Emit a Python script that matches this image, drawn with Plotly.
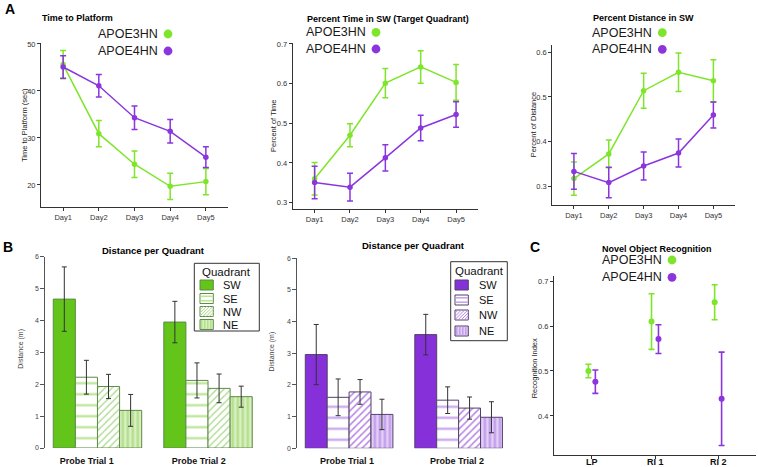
import plotly.graph_objects as go

W, H = 758, 467
FONT = "Arial, Liberation Sans, sans-serif"

# ---------------- data ----------------
days = ["Day1", "Day2", "Day3", "Day4", "Day5"]
genotypes = ["APOE3HN", "APOE4HN"]

ttp_e3 = [45.6, 30.9, 24.4, 19.7, 20.7]
ttp_e3_err = [3.0, 2.8, 2.8, 2.8, 2.8]
ttp_e4 = [45.1, 41.1, 34.3, 31.4, 25.9]
ttp_e4_err = [2.4, 2.4, 2.5, 2.5, 2.2]

ptime_e3 = [0.360, 0.470, 0.601, 0.642, 0.603]
ptime_e3_err = [0.041, 0.029, 0.037, 0.041, 0.045]
ptime_e4 = [0.351, 0.339, 0.413, 0.488, 0.522]
ptime_e4_err = [0.041, 0.035, 0.033, 0.032, 0.032]

pdist_e3 = [0.318, 0.373, 0.514, 0.555, 0.536]
pdist_e3_err = [0.037, 0.031, 0.039, 0.043, 0.047]
pdist_e4 = [0.334, 0.309, 0.346, 0.375, 0.460]
pdist_e4_err = [0.040, 0.034, 0.031, 0.031, 0.029]

trials = ["Probe Trial 1", "Probe Trial 2"]
quadrants = ["SW", "SE", "NW", "NE"]
dist_e3_t1 = [4.67, 2.22, 1.93, 1.18]
dist_e3_t1_err = [1.01, 0.53, 0.38, 0.50]
dist_e3_t2 = [3.95, 2.12, 1.87, 1.61]
dist_e3_t2_err = [0.65, 0.55, 0.45, 0.33]
dist_e4_t1 = [2.96, 1.61, 1.78, 1.07]
dist_e4_t1_err = [0.95, 0.58, 0.39, 0.48]
dist_e4_t2 = [3.59, 1.52, 1.27, 0.98]
dist_e4_t2_err = [0.64, 0.42, 0.35, 0.49]

nor_tests = ["LP", "RI 1", "RI 2"]
nor_e3 = [0.500, 0.610, 0.653]
nor_e3_err = [0.015, 0.062, 0.039]
nor_e4 = [0.476, 0.571, 0.438]
nor_e4_err = [0.026, 0.032, 0.104]

# ---------------- styles ----------------
GREEN = "#7FE52B"
PURPLE = "#8B35DC"
TXT = "#222222"
AX = "#333333"


def px_x(a, b):
    return [a / W, b / W]


def px_y(top, bottom):
    return [1 - bottom / H, 1 - top / H]


def fx(p):
    return p / W


def fy(p):
    return 1 - p / H


fig = go.Figure()

# ---------------- panel A line charts ----------------
a_sets = [
    (ttp_e3, ttp_e3_err, ttp_e4, ttp_e4_err, "x", "y"),
    (ptime_e3, ptime_e3_err, ptime_e4, ptime_e4_err, "x2", "y2"),
    (pdist_e3, pdist_e3_err, pdist_e4, pdist_e4_err, "x3", "y3"),
]
for e3, e3e, e4, e4e, xa, ya in a_sets:
    for vals, errs, col, name in [(e3, e3e, GREEN, genotypes[0]), (e4, e4e, PURPLE, genotypes[1])]:
        fig.add_trace(go.Scatter(
            x=days, y=vals, mode="lines+markers", name=name,
            line=dict(color=col, width=1.5), marker=dict(color=col, size=5.5),
            error_y=dict(type="data", array=errs, color=col, thickness=1.5, width=3),
            xaxis=xa, yaxis=ya, showlegend=False))

# ---------------- panel B bar charts ----------------
b_green = dict(
    SW=dict(color="#63C519", fg=None, bg="#63C519"),
    SE=dict(color="white", fg="#B9E592", bg="white",
            pattern=dict(shape="-", fgcolor="#B9E592", bgcolor="white", size=11, solidity=0.2)),
    NW=dict(color="white", fg="#A9D98A", bg="white",
            pattern=dict(shape="/", fgcolor="#A9D98A", bgcolor="white", size=5, solidity=0.25)),
    NE=dict(color="#D3EEBB", fg="#B1DE88", bg="#D8F0C2",
            pattern=dict(shape="|", fgcolor="#B1DE88", bgcolor="#D8F0C2", size=5, solidity=0.45)),
)
b_purple = dict(
    SW=dict(color="#8530D8", fg=None, bg="#8530D8"),
    SE=dict(color="white", fg="#C8A4EE", bg="white",
            pattern=dict(shape="-", fgcolor="#C8A4EE", bgcolor="white", size=11, solidity=0.2)),
    NW=dict(color="white", fg="#B685E6", bg="white",
            pattern=dict(shape="/", fgcolor="#B685E6", bgcolor="white", size=5, solidity=0.3)),
    NE=dict(color="#DCC5F4", fg="#C09AEC", bg="#E2CFF6",
            pattern=dict(shape="|", fgcolor="#C09AEC", bgcolor="#E2CFF6", size=5, solidity=0.45)),
)
b_sets = [
    (dist_e3_t1, dist_e3_t1_err, dist_e3_t2, dist_e3_t2_err, b_green, "#5F8A48", "x4", "y4"),
    (dist_e4_t1, dist_e4_t1_err, dist_e4_t2, dist_e4_t2_err, b_purple, "#55406B", "x5", "y5"),
]
for t1, t1e, t2, t2e, sty, edge, xa, ya in b_sets:
    for qi, q in enumerate(quadrants):
        s = sty[q]
        marker = dict(color=s["color"], line=dict(color=edge, width=1))
        if "pattern" in s:
            marker["pattern"] = s["pattern"]
        fig.add_trace(go.Bar(
            x=trials, y=[t1[qi], t2[qi]], name=q, marker=marker,
            error_y=dict(type="data", array=[t1e[qi], t2e[qi]], color="#333333", thickness=1, width=2.5),
            xaxis=xa, yaxis=ya, showlegend=False))

# ---------------- panel C ----------------
dodge = 0.055
for vals, errs, col, name, sgn in [(nor_e3, nor_e3_err, GREEN, genotypes[0], -1),
                                   (nor_e4, nor_e4_err, PURPLE, genotypes[1], 1)]:
    fig.add_trace(go.Scatter(
        x=[i + sgn * dodge for i in range(len(nor_tests))], y=vals, mode="markers", name=name,
        marker=dict(color=col, size=6),
        error_y=dict(type="data", array=errs, color=col, thickness=1.6, width=3),
        xaxis="x6", yaxis="y6", showlegend=False))

# ---------------- axes ----------------
a_axis = dict(showline=True, linecolor=AX, linewidth=1, ticks="outside", ticklen=3,
              tickcolor=AX, tickwidth=1, tickfont=dict(size=7.5, color=AX, family=FONT),
              showgrid=False, zeroline=False, automargin=False)

C_X0, C_X1 = 554, 756
C_RANGE = [-0.6, 2.6]

lay = dict(
    template="none",
    width=W, height=H, margin=dict(l=0, r=0, t=0, b=0),
    paper_bgcolor="white", plot_bgcolor="white",
    font=dict(family=FONT, color=TXT),
    barmode="group", bargap=0.2, bargroupgap=0, showlegend=False,
    xaxis=dict(domain=px_x(41, 228), anchor="y", range=[-0.62, 4.62], **a_axis),
    yaxis=dict(domain=px_y(43, 207), anchor="x", range=[15.3, 50.2], tickvals=[20, 30, 40, 50], **a_axis),
    xaxis2=dict(domain=px_x(292.7, 478), anchor="y2", range=[-0.62, 4.62], **a_axis),
    yaxis2=dict(domain=px_y(42.7, 209), anchor="x2", range=[0.284, 0.703],
                tickvals=[0.3, 0.4, 0.5, 0.6, 0.7], tickformat=".1f", **a_axis),
    xaxis3=dict(domain=px_x(552.3, 735), anchor="y3", range=[-0.62, 4.62], **a_axis),
    yaxis3=dict(domain=px_y(45, 205), anchor="x3", range=[0.259, 0.616],
                tickvals=[0.3, 0.4, 0.5, 0.6], tickformat=".1f", **a_axis),
    xaxis6=dict(domain=px_x(C_X0, C_X1), anchor="y6", range=C_RANGE,
                tickvals=list(range(len(nor_tests))), showticklabels=False, **a_axis),
    yaxis6=dict(domain=px_y(276.2, 454.5), anchor="x6", range=[0.314, 0.711],
                tickvals=[0.4, 0.5, 0.6, 0.7], tickformat=".1f", **a_axis),
)

b_y = dict(showline=True, linecolor="#555555", linewidth=1, ticks="outside", ticklen=4,
           tickcolor="#555555", tickfont=dict(size=7, color="#444444", family=FONT),
           showgrid=False, zeroline=False, automargin=False, range=[0, 6], dtick=1)
b_x = dict(showline=False, ticks="", showgrid=False, zeroline=False, automargin=False,
           range=[-0.472, 1.472], ticktext=["<b>%s</b>" % t for t in trials],
           ticklabelstandoff=6, tickfont=dict(size=9, color="#111111", family=FONT))
# label positions (in category units): panel B1 labels sit slightly left of the group centres
lay["xaxis4"] = dict(domain=px_x(45.3, 260.2), anchor="y4", tickvals=[-0.097, 0.917], **b_x)
lay["yaxis4"] = dict(domain=px_y(256.7, 448), anchor="x4", **b_y)
lay["xaxis5"] = dict(domain=px_x(297.4, 510.3), anchor="y5", tickvals=[-0.02, 0.985], **b_x)
lay["yaxis5"] = dict(domain=px_y(258.3, 448.3), anchor="x5", **b_y)

fig.update_layout(**lay)

# ---------------- annotations & decorations ----------------
ann = []
shapes = []


def text(s, x, y, size, bold=False, anchor="left", color=TXT, angle=0):
    ann.append(dict(text=("<b>%s</b>" % s) if bold else s, x=fx(x), y=fy(y), xref="paper", yref="paper",
                    xanchor=anchor, yanchor="middle", showarrow=False, textangle=angle,
                    font=dict(size=size, color=color, family=FONT)))


def pline(x0, y0, x1, y1, color, width):
    shapes.append(dict(type="line", xref="paper", yref="paper", x0=fx(x0), y0=fy(y0), x1=fx(x1), y1=fy(y1),
                       line=dict(color=color, width=width)))


def prect(x0, y0, x1, y1, fill, edge, width=1):
    shapes.append(dict(type="rect", xref="paper", yref="paper", x0=fx(x0), y0=fy(y0), x1=fx(x1), y1=fy(y1),
                       fillcolor=fill, line=dict(color=edge, width=width)))


text("A", 3, 8.5, 14, bold=True, color="#000")
text("B", 0.5, 246.7, 14, bold=True, color="#000")
text("C", 528, 247.3, 14, bold=True, color="#000")

text("Time to Platform", 40, 18, 9, bold=True, color="#000")
text("Percent Time in SW (Target Quadrant)", 305, 19, 9, bold=True, color="#000")
text("Percent Distance in SW", 590.7, 18, 9, bold=True, color="#000")
text("Distance per Quadrant", 153.5, 250, 9.5, bold=True, anchor="center", color="#000")
text("Distance per Quadrant", 413.3, 245.7, 9.5, bold=True, anchor="center", color="#000")
text("Novel Object Recognition", 600, 249.3, 9, bold=True, color="#000")

text("Time to Platform (sec)", 24, 125, 7.5, angle=-90, anchor="center")
text("Percent of Time", 273.3, 125.7, 7.5, angle=-90, anchor="center")
text("Percent of Distance", 533.3, 125, 7.5, angle=-90, anchor="center")
text("Distance (m)", 20.7, 349, 7, angle=-90, anchor="center", color="#444")
text("Distance (m)", 271.7, 351.7, 7, angle=-90, anchor="center", color="#444")
text("Recognition Index", 534.3, 368, 7.5, angle=-90, anchor="center")

# panel C category labels at the category positions of the C x axis
for i, t in enumerate(nor_tests):
    cx = C_X0 + (i - C_RANGE[0]) / (C_RANGE[1] - C_RANGE[0]) * (C_X1 - C_X0)
    text(t, cx, 462, 9, bold=True, anchor="center", color="#111")

# genotype keys (text followed by dot)
legend_spots = [(96, 34, 51, 168), (304, 32.3, 49, 376), (590, 32.7, 49.3, 662.3), (600, 260, 277.3, 672)]
for tx, y1, y2, dxp in legend_spots:
    for yy, lab, col in [(y1, genotypes[0], GREEN), (y2, genotypes[1], PURPLE)]:
        text(lab, tx, yy, 12.5, color="#1a1a1a")
        shapes.append(dict(type="circle", xref="paper", yref="paper", xsizemode="pixel", ysizemode="pixel",
                           xanchor=fx(dxp), yanchor=fy(yy), x0=-4.4, x1=4.4, y0=-4.4, y1=4.4,
                           fillcolor=col, line=dict(width=0)))


# quadrant keys (boxed legends)
def quad_key(box, title_xy, sw_x, text_x, item_ys, sty, edge):
    bx0, by0, bx1, by1 = box
    prect(bx0, by0, bx1, by1, "white", "#333333", 1)
    text("Quadrant", title_xy[0], title_xy[1], 11.5, anchor="center", color="#111")
    sx0, sx1 = sw_x
    for q, yc in zip(quadrants, item_ys):
        s = sty[q]
        y0, y1 = yc - 5, yc + 5
        prect(sx0, y0, sx1, y1, s["bg"], edge, 1)
        if q == "SE":
            for yy in (yc - 2.2, yc + 2.2):
                pline(sx0 + 0.5, yy, sx1 - 0.5, yy, s["fg"], 1.6)
        elif q == "NW":
            w, h, step = sx1 - sx0, y1 - y0, 3.2
            c = step
            while c < w + h:
                ax_ = sx0 + min(c, w)
                ay_ = y0 + (c - min(c, w))
                bx_ = sx0 + (c - min(c, h))
                by_ = y0 + min(c, h)
                pline(ax_, ay_, bx_, by_, s["fg"], 1)
                c += step
        elif q == "NE":
            xx = sx0 + 1.8
            while xx < sx1 - 0.5:
                pline(xx, y0 + 0.5, xx, y1 - 0.5, s["fg"], 1.4)
                xx += 3
        text(q, text_x, yc, 11, color="#111")


quad_key((194.3, 263.3, 259.3, 331), (226.8, 271.5), (200, 213.3), 221, [285, 298.5, 311.5, 324.5],
         b_green, "#5F8A48")
quad_key((450.7, 261.7, 507.3, 340.7), (479, 270.7), (455, 468.3), 476.7, [285, 300, 315, 331],
         b_purple, "#55406B")

fig.update_layout(annotations=ann, shapes=shapes)
# place the figure at the very top-left of the page (no default body margin), no mode bar
fig.write_html("out.html", config={"displayModeBar": False},
               post_script="document.body.style.margin='0';document.body.style.overflow='hidden';")
